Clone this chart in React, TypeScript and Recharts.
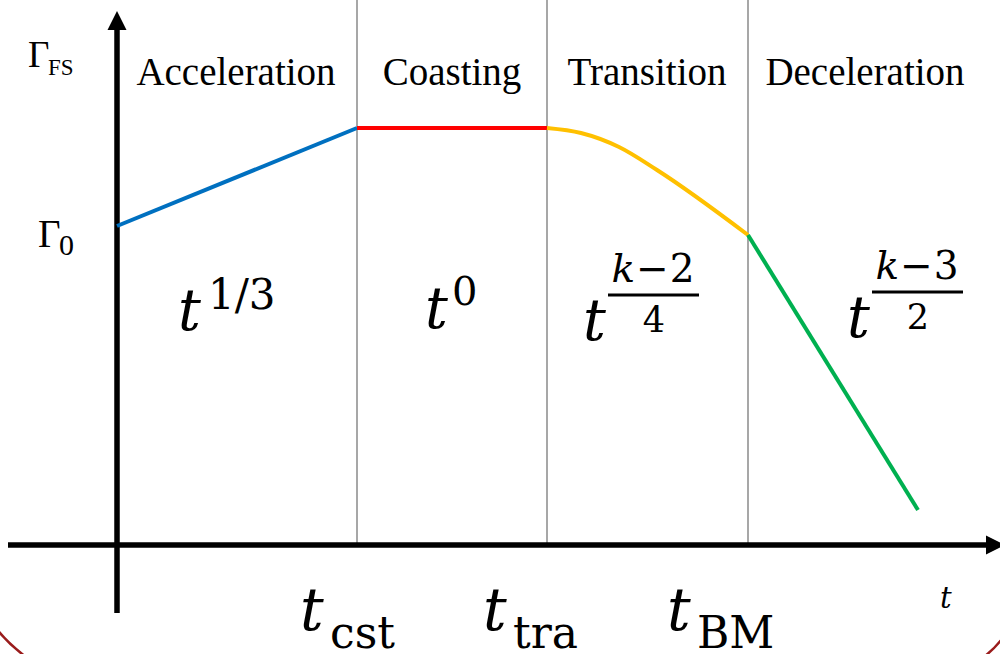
import React from 'react';
import { ComposedChart, Line, XAxis, YAxis, ReferenceLine, ReferenceDot } from 'recharts';

// Phase boundaries on the time axis (arbitrary units)
const phaseBounds = [2.4, 4.3, 6.31];

// Lorentz factor Γ_FS in each phase
const accelData = [
  { t: 0, g: 3.19 },
  { t: 2.4, g: 4.17 },
];
const coastData = [
  { t: 2.4, g: 4.17 },
  { t: 4.3, g: 4.17 },
];
const transData = [
  { t: 4.3, g: 4.17 },
  { t: 4.64, g: 4.12 },
  { t: 5.02, g: 3.98 },
  { t: 5.4, g: 3.75 },
  { t: 6.31, g: 3.1 },
];
const decelData = [
  { t: 6.31, g: 3.1 },
  { t: 8.01, g: 0.35 },
];

// Phase names along the top
const phaseNames = ['Acceleration', 'Coasting', 'Transition', 'Deceleration'];
const phaseNameT = [1.19, 3.35, 5.3, 7.48];
const phaseNameG = 4.6;

// Scaling laws: t^exp, either a plain superscript or a fraction
const lawT = [0.61, 3.08, 4.66, 7.3];
const lawG = [2.15, 2.17, 2.05, 2.08];
const lawSup = ['1/3', '0', null, null];
const lawNum = [null, null, '2', '3'];
const lawDen = [null, null, '4', '2'];

// Time markers under the axis
const markerSubs = ['cst', 'tra', 'BM'];
const markerT = [1.83, 3.66, 5.5];
const markerG = -0.85;

const X_DOMAIN: [number, number] = [-1.17, 8.83];
const Y_DOMAIN: [number, number] = [-1.09, 5.45];

const SERIF = '"Liberation Serif", "Times New Roman", serif';
const MATH = '"DejaVu Serif", serif';
const mathStyle = { fontFamily: MATH, fill: '#000' };
const textStyle = { fontFamily: SERIF, fill: '#000' };

const arrowLine = (p: any) => {
  const { x1, y1, x2, y2 } = p;
  const dx = x2 - x1;
  const dy = y2 - y1;
  const len = Math.hypot(dx, dy) || 1;
  const ux = dx / len;
  const uy = dy / len;
  const head = 19;
  const half = 9.5;
  const bx = x2 - ux * head;
  const by = y2 - uy * head;
  const pts = `${x2},${y2} ${bx - uy * half},${by + ux * half} ${bx + uy * half},${by - ux * half}`;
  return (
    <g>
      <line x1={x1} y1={y1} x2={bx + ux * 2} y2={by + uy * 2} stroke="#000" strokeWidth={5.5} />
      <polygon points={pts} fill="#000" />
    </g>
  );
};

const lawShape = (i: number) => (p: any) => {
  const { cx, cy } = p;
  const tEl = (
    <text x={cx} y={cy} style={mathStyle} fontStyle="italic" fontSize={57}>
      t
    </text>
  );
  if (lawSup[i] != null) {
    const long = lawSup[i]!.length > 1;
    return (
      <g>
        {tEl}
        <text x={cx + (long ? 30 : 27)} y={cy - (long ? 21 : 23)} style={mathStyle} fontSize={long ? 42 : 40}>
          {lawSup[i]}
        </text>
      </g>
    );
  }
  const mid = cx + 70;
  return (
    <g>
      {tEl}
      <text x={mid} y={cy - 58} textAnchor="middle" style={mathStyle} fontSize={39}>
        <tspan fontStyle="italic">k</tspan>
        <tspan dx={1}>{'\u2212'}</tspan>
        <tspan dx={1}>{lawNum[i]}</tspan>
      </text>
      <line x1={cx + 25} x2={cx + 116} y1={cy - 45} y2={cy - 45} stroke="#000" strokeWidth={3} />
      <text x={mid + 1} y={cy - 8} textAnchor="middle" style={mathStyle} fontSize={35}>
        {lawDen[i]}
      </text>
    </g>
  );
};

const markerShape = (i: number) => (p: any) => {
  const { cx, cy } = p;
  return (
    <g>
      <text x={cx} y={cy} style={mathStyle} fontStyle="italic" fontSize={59}>
        t
      </text>
      <text x={cx + 30} y={cy + 18} style={mathStyle} fontSize={44}>
        {markerSubs[i]}
      </text>
    </g>
  );
};

const phaseShape = (i: number) => (p: any) => (
  <text x={p.cx} y={p.cy} textAnchor="middle" style={textStyle} fontSize={39}>
    {phaseNames[i]}
  </text>
);

const gammaFsShape = (p: any) => (
  <g>
    <text x={p.cx} y={p.cy} style={textStyle} fontSize={37}>
      Γ
    </text>
    <text x={p.cx + 20} y={p.cy + 8} style={textStyle} fontSize={23}>
      FS
    </text>
  </g>
);

const gamma0Shape = (p: any) => (
  <g>
    <text x={p.cx} y={p.cy} style={textStyle} fontSize={39}>
      Γ
    </text>
    <text x={p.cx + 21} y={p.cy + 8} style={textStyle} fontSize={30}>
      0
    </text>
  </g>
);

const timeLabelShape = (p: any) => (
  <text x={p.cx} y={p.cy} style={mathStyle} fontStyle="italic" fontSize={29}>
    t
  </text>
);

const seriesProps = {
  dataKey: 'g',
  strokeWidth: 4,
  dot: false,
  activeDot: false,
  isAnimationActive: false,
} as const;

export default function App() {
  return (
    <div style={{ position: 'absolute', left: 0, top: 0, width: 1000, height: 654, background: '#fff', overflow: 'hidden' }}>
      <ComposedChart width={1000} height={654} margin={{ top: 0, right: 0, bottom: 0, left: 0 }}>
        <XAxis type="number" dataKey="t" domain={X_DOMAIN} allowDataOverflow hide />
        <YAxis type="number" dataKey="g" domain={Y_DOMAIN} allowDataOverflow hide />

        {phaseBounds.map((b) => (
          <ReferenceLine
            key={`b${b}`}
            segment={[{ x: b, y: 0 }, { x: b, y: Y_DOMAIN[1] }]}
            stroke="#8a8a8a"
            strokeWidth={1.5}
            ifOverflow="visible"
          />
        ))}

        {/* axes with arrow heads */}
        <ReferenceLine segment={[{ x: -1.09, y: 0 }, { x: 8.88, y: 0 }]} shape={arrowLine} ifOverflow="visible" />
        <ReferenceLine segment={[{ x: 0, y: -0.68 }, { x: 0, y: 5.34 }]} shape={arrowLine} ifOverflow="visible" />

        <Line data={accelData} type="linear" stroke="#0070C0" {...seriesProps} />
        <Line data={coastData} type="linear" stroke="#FF0000" {...seriesProps} />
        <Line data={transData} type="monotone" stroke="#FFC000" {...seriesProps} />
        <Line data={decelData} type="linear" stroke="#00B050" {...seriesProps} />

        {phaseNames.map((_, i) => (
          <ReferenceDot key={`p${i}`} x={phaseNameT[i]} y={phaseNameG} r={0} ifOverflow="visible" shape={phaseShape(i)} />
        ))}
        {lawT.map((_, i) => (
          <ReferenceDot key={`l${i}`} x={lawT[i]} y={lawG[i]} r={0} ifOverflow="visible" shape={lawShape(i)} />
        ))}
        {markerSubs.map((_, i) => (
          <ReferenceDot key={`m${i}`} x={markerT[i]} y={markerG} r={0} ifOverflow="visible" shape={markerShape(i)} />
        ))}
        <ReferenceDot x={-0.89} y={4.78} r={0} ifOverflow="visible" shape={gammaFsShape} />
        <ReferenceDot x={-0.79} y={2.98} r={0} ifOverflow="visible" shape={gamma0Shape} />
        <ReferenceDot x={8.23} y={-0.63} r={0} ifOverflow="visible" shape={timeLabelShape} />
      </ComposedChart>
      {/* slide frame corners */}
      <svg width={1000} height={654} style={{ position: 'absolute', left: 0, top: 0, pointerEvents: 'none' }}>
        <path d="M -4 628 Q 8 644 30 660" fill="none" stroke="#9a1c1c" strokeWidth={2.5} />
        <path d="M 1004 636 Q 996 648 980 660" fill="none" stroke="#9a1c1c" strokeWidth={2.5} />
      </svg>
    </div>
  );
}
